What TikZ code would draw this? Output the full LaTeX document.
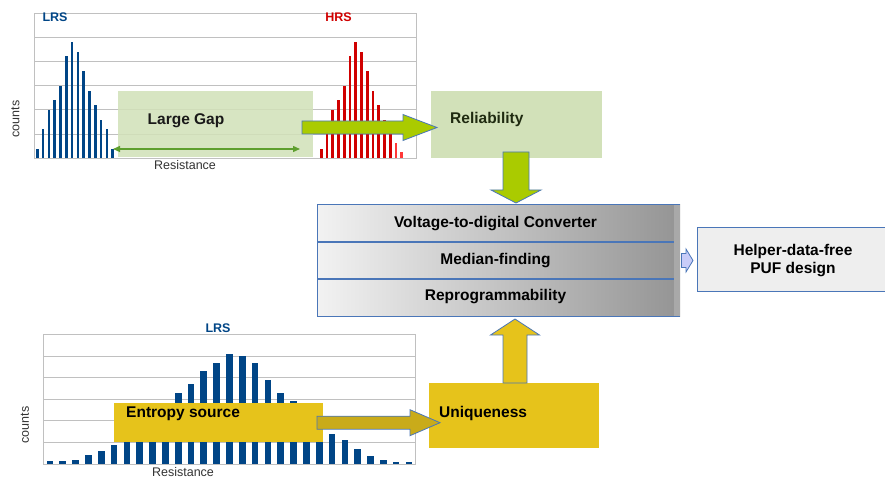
\documentclass[tikz,border=0pt]{standalone}
\usepackage{fontspec}
\setmainfont{Liberation Sans}
\usetikzlibrary{calc,arrows.meta}

\definecolor{chartblue}{HTML}{004586}
\definecolor{chartred}{HTML}{D00000}
\definecolor{lightred}{HTML}{FF3838}
\definecolor{gridgray}{HTML}{C0C0C0}
\definecolor{axistext}{HTML}{333333}
\definecolor{gapgreen}{HTML}{D2E1B9}
\definecolor{limegreen}{HTML}{AACB00}
\definecolor{spangreen}{HTML}{5E9F2E}
\definecolor{edgeblue}{HTML}{4A76B8}
\definecolor{gold}{HTML}{E6C31B}
\definecolor{olivegold}{HTML}{C9AB1A}
\definecolor{lavender}{HTML}{C8CCF8}
\definecolor{paleGray}{HTML}{EEEEEE}
\definecolor{stripgray}{HTML}{A9A9A9}
\definecolor{darkleaf}{HTML}{1F2A10}

% block arrow: style, tail, tip, shaft half-width, head half-width, head length
\newcommand{\blockarrow}[6]{%
  \path coordinate (hb) at ($(#3)!#6pt!(#2)$);
  \draw[#1] ($(#2)!#4pt!90:(#3)$) -- ($(hb)!#4pt!90:(#3)$) -- ($(hb)!#5pt!90:(#3)$)
    -- (#3) -- ($(hb)!#5pt!-90:(#3)$) -- ($(hb)!#4pt!-90:(#3)$)
    -- ($(#2)!#4pt!-90:(#3)$) -- cycle;}

\tikzset{
  gridline/.style={draw=gridgray, line width=0.9pt},
  boxlbl/.style={font=\fontsize{15.5}{18}\selectfont\bfseries, inner sep=0pt},
  axislbl/.style={font=\fontsize{12.5}{14}\selectfont, inner sep=0pt, text=axistext},
  statelbl/.style={font=\fontsize{12.5}{14}\selectfont\bfseries, inner sep=0pt},
  plainbox/.style={draw=none, inner sep=0pt, outer sep=0pt},
  limearrow/.style={fill=limegreen, draw=edgeblue, line width=0.8pt},
  goldarrow/.style={fill=gold, draw=edgeblue, line width=0.8pt},
  olivearrow/.style={fill=olivegold, draw=edgeblue, line width=0.8pt},
  smallarrow/.style={fill=lavender, draw=edgeblue, line width=0.8pt},
}

\begin{document}
\begin{tikzpicture}[x=1pt,y=-1pt]
\useasboundingbox (0,0) rectangle (885,478);

% ---------- upper histogram: LRS / HRS ----------
\foreach \gy in {37.3,61.5,85.7,109.9,134.1}
  \draw[gridline] (34.3,\gy) -- (416.7,\gy);
\draw[gridline] (34.3,13.3) rectangle (416.7,158.3);

\foreach \h [count=\i from 0] in {9.3,29.3,48.3,58.3,72.3,102.3,116,106,87.3,67.3,53.3,38.3,29.3,9.3}
  \fill[chartblue] ({37.3+5.8*\i-1.35},158.3) rectangle ++(2.7,-\h);
\foreach \h [count=\i from 0] in {9.3,25,48.3,58.3,72.3,102.3,116,106,87.3,67.3,53.3,38.3,25}
  \fill[chartred] ({321.3+5.75*\i-1.35},158.3) rectangle ++(2.7,-\h);
\foreach \h [count=\i from 13] in {15,6}
  \fill[lightred] ({321.3+5.75*\i-1.35},158.3) rectangle ++(2.7,-\h);

\node[statelbl, text=chartblue] (lrsTop) at (55,17.5) {LRS};
\node[statelbl, text=chartred] (hrsTop) at (338.5,17.5) {HRS};
\node[axislbl] (resTop) at (185,165.5) {Resistance};
\node[axislbl, rotate=90] (cntTop) at (15.5,119) {counts};

\node[plainbox, fill=gapgreen, fill opacity=0.88, minimum width=195pt, minimum height=66pt] (gap) at (215.5,124) {};
\node[boxlbl, text=black!90] (gapText) at (186,121) {Large Gap};
\coordinate (spanL) at (113,149);
\coordinate (spanR) at (300,149);
\draw[spangreen, line width=1.3pt, {Triangle[length=7pt,width=6pt]}-{Triangle[length=7pt,width=6pt]}] (spanL) -- (spanR);

% ---------- reliability ----------
\node[plainbox, fill=gapgreen, minimum width=171pt, minimum height=67pt] (rel) at (516.5,124.5) {};
\node[boxlbl, text=darkleaf, anchor=west] (relText) at (450,119) {Reliability};
\coordinate (gapTail) at (302,127.5);
\coordinate (gapTip) at (437,127.5);
\blockarrow{limearrow}{gapTail}{gapTip}{6.5}{13}{34}
\coordinate (relTail) at (516,152);
\coordinate (relTip) at (516,203);
\blockarrow{limearrow}{relTail}{relTip}{13}{25}{13}

% ---------- central stack ----------
\node[plainbox, left color=black!5, right color=black!42, minimum width=363pt, minimum height=111pt] (stack) at (498.5,260.5) {};
\fill[stripgray] (674,205) rectangle (680,316);
\draw[edgeblue, line width=1pt] (680,205) -- (317,205) -- (317,316) -- (680,316);
\draw[edgeblue, line width=1.2pt] (317,242) -- (674,242);
\draw[edgeblue, line width=1.2pt] (317,279) -- (674,279);
\node[boxlbl] (vdc) at (495.5,224) {Voltage-to-digital Converter};
\node[boxlbl] (median) at (495.5,261) {Median-finding};
\node[boxlbl] (reprog) at (495.5,297) {Reprogrammability};

% ---------- output ----------
\coordinate (outTail) at (681.5,260.5);
\coordinate (outTip) at (693,260.5);
\blockarrow{smallarrow}{outTail}{outTip}{7}{11.5}{7}
\node[plainbox, fill=paleGray, draw=edgeblue, line width=1pt, minimum width=192pt, minimum height=63pt] (helper) at (793,259.5) {};
\node[boxlbl, align=center] (helperText) at (793,261) {Helper-data-free\\PUF design};

% ---------- lower histogram: LRS ----------
\foreach \gy in {356,377.6,399.2,420.8,442.4}
  \draw[gridline] (43.3,\gy) -- (415,\gy);
\draw[gridline] (43.3,334) rectangle (415,464);
\foreach \h [count=\i from 0] in {2.7,2.7,4.3,8.7,13.3,19.3,26,36,48,60,71.3,80,93,101.3,110,108,101.3,84,71.3,63.3,52,41,30,24,15,8.3,4,2.2,2.2}
  \fill[chartblue] ({50+12.82*\i-3.35},464) rectangle ++(6.7,-\h);

\node[statelbl, text=chartblue] (lrsBot) at (218,328) {LRS};
\node[axislbl] (resBot) at (183,472.5) {Resistance};
\node[axislbl, rotate=90] (cntBot) at (25,425) {counts};

\node[plainbox, fill=gold, minimum width=209pt, minimum height=39.5pt] (entropy) at (218.5,422.3) {};
\node[boxlbl, text=black, anchor=west] (entText) at (126,413.5) {Entropy source};

% ---------- uniqueness ----------
\node[plainbox, fill=gold, minimum width=170pt, minimum height=65pt] (uniq) at (514,415.5) {};
\node[boxlbl, text=black, anchor=west] (uniqText) at (439,413) {Uniqueness};
\coordinate (entTail) at (317,422.7);
\coordinate (entTip) at (440,422.7);
\blockarrow{olivearrow}{entTail}{entTip}{6.5}{13}{30}
\coordinate (uniqTail) at (515,383);
\coordinate (uniqTip) at (515,319);
\blockarrow{goldarrow}{uniqTail}{uniqTip}{12}{24.5}{16}

\end{tikzpicture}
\end{document}
